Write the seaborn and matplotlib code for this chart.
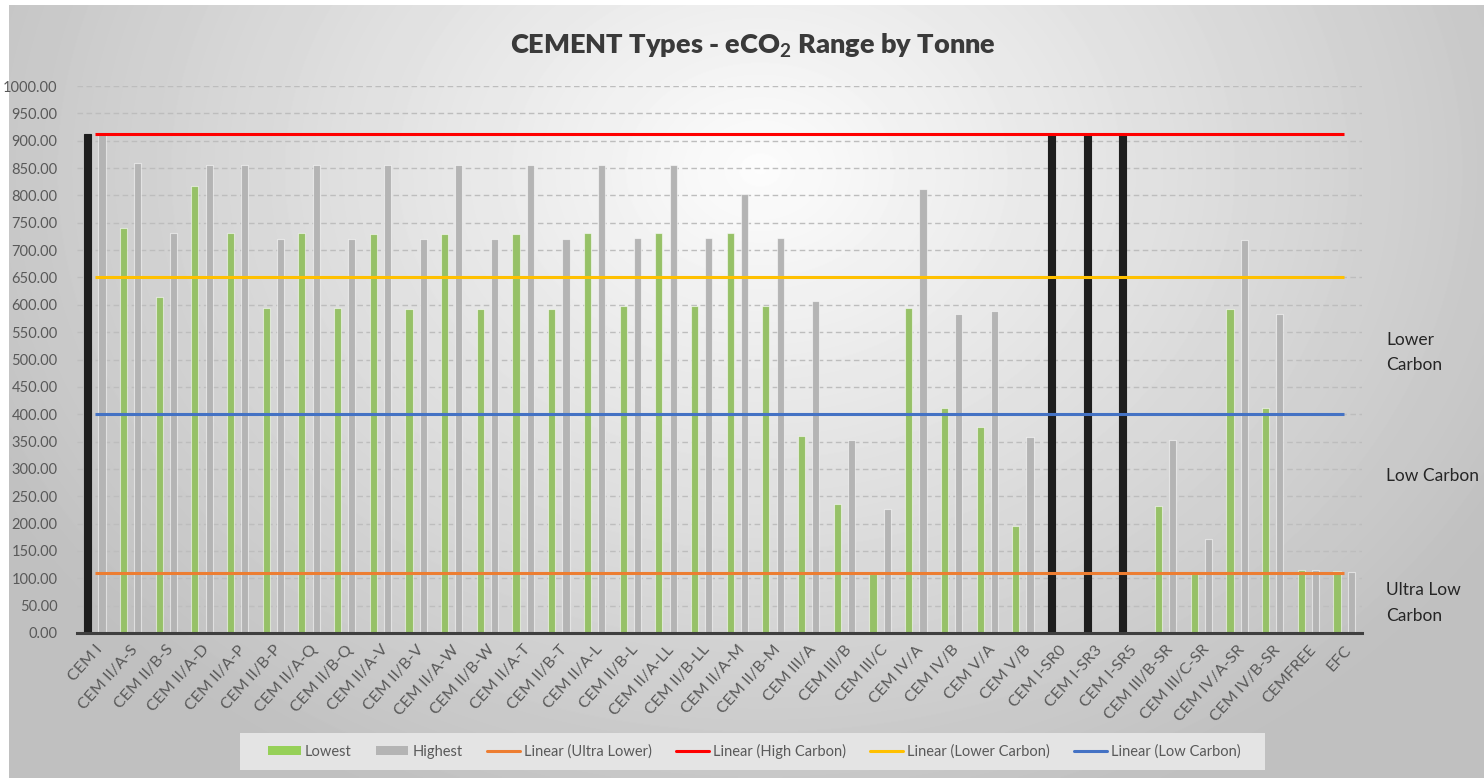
import numpy as np
import pandas as pd
import matplotlib
matplotlib.use("Agg")
import matplotlib.pyplot as plt
import seaborn as sns
from matplotlib.patches import Patch, Rectangle
from matplotlib.lines import Line2D
from matplotlib.ticker import MultipleLocator, StrMethodFormatter
import matplotlib.transforms as mtransforms

# ---------------- data ----------------
categories = [
    "CEM I", "CEM II/A-S", "CEM II/B-S", "CEM II/A-D", "CEM II/A-P", "CEM II/B-P",
    "CEM II/A-Q", "CEM II/B-Q", "CEM II/A-V", "CEM II/B-V", "CEM II/A-W", "CEM II/B-W",
    "CEM II/A-T", "CEM II/B-T", "CEM II/A-L", "CEM II/B-L", "CEM II/A-LL", "CEM II/B-LL",
    "CEM II/A-M", "CEM II/B-M", "CEM III/A", "CEM III/B", "CEM III/C", "CEM IV/A",
    "CEM IV/B", "CEM V/A", "CEM V/B", "CEM I-SR0", "CEM I-SR3", "CEM I-SR5",
    "CEM III/B-SR", "CEM III/C-SR", "CEM IV/A-SR", "CEM IV/B-SR", "CEMFREE", "EFC",
]
lowest = [912, 741, 615, 818, 731, 594, 731, 594, 729, 593, 729, 593,
          729, 593, 731, 598, 731, 598, 731, 597, 360, 235, 107, 594,
          412, 376, 196, 912, 912, 912, 233, 108, 593, 412, 116, 114]
highest = [912, 860, 732, 856, 856, 720, 856, 720, 856, 720, 856, 720,
           856, 720, 856, 722, 856, 722, 803, 722, 607, 353, 226, 811,
           584, 589, 358, np.nan, np.nan, np.nan, 352, 171, 719, 584, 116, 112]
highlight_black = ["CEM I", "CEM I-SR0", "CEM I-SR3", "CEM I-SR5"]

series_names = ["Lowest", "Highest"]
line_labels = ["Linear (Ultra Lower)", "Linear (High Carbon)",
               "Linear (Lower Carbon)", "Linear (Low Carbon)"]
line_values = [110, 912, 650, 400]
zone_labels = ["Lower\nCarbon", "Low Carbon", "Ultra Low\nCarbon"]
zone_values = [513, 287, 55]

# ---------------- style ----------------
GREEN = "#96D058"
GRAY = "#B4B4B4"
BLACK = "#1E1E1E"
line_colors = ["#ED7D31", "#FF0000", "#FFC000", "#4472C4"]
TXT = "#595959"

sns.set_theme(style="white")
plt.rcParams["font.family"] = ["Lato", "DejaVu Sans"]
plt.rcParams["mathtext.fontset"] = "custom"
plt.rcParams["mathtext.rm"] = "Lato"
plt.rcParams["mathtext.bf"] = "Lato:bold"

W, H = 1484, 778
fig = plt.figure(figsize=(W / 100, H / 100), dpi=100)
fig.patch.set_facecolor("white")

# background gradient panel
bg = fig.add_axes([9 / W, 0, 1 - 9 / W, 1 - 5 / H])
bg.axis("off")
gh, gw = 773, 1475
yy, xx = np.mgrid[0:gh, 0:gw]
d = np.sqrt(((xx + 9 - 760) / 800.0) ** 2 + ((yy + 5 - 170) / 640.0) ** 2)
val = np.clip(0.99 - 0.22 * d, 0.75, 1.0)
bg.imshow(val, cmap="gray", vmin=0, vmax=1, aspect="auto", interpolation="bilinear")
bg.set_zorder(0)

ax = fig.add_axes([77 / W, 1 - 633 / H, (1362 - 77) / W, (633 - 86) / H])
ax.set_zorder(1)
ax.patch.set_alpha(0)

df = pd.DataFrame({
    "cement": categories * 2,
    "series": [series_names[0]] * len(categories) + [series_names[1]] * len(categories),
    "value": list(lowest) + list(highest),
}).dropna()

sns.barplot(data=df, x="cement", y="value", hue="series", order=categories,
            hue_order=series_names, palette={"Lowest": GREEN, "Highest": GRAY},
            width=0.8, gap=0.5, errorbar=None, ax=ax, legend=False,
            edgecolor=(1, 1, 1, 0.55), linewidth=0.8, zorder=2)

# recolour the CEM I / sulfate-resisting CEM I bars black
for i, name in enumerate(categories):
    if name in highlight_black:
        ax.containers[0].patches[i].set_facecolor(BLACK)
        ax.containers[0].patches[i].set_edgecolor(BLACK)

# linear threshold lines
xs = np.arange(len(categories))
for lab, v, c in zip(line_labels, line_values, line_colors):
    ax.plot([xs[0], xs[-1]], [v, v], color=c, lw=2.2, zorder=3, solid_capstyle="butt")

ax.set_xlim(-0.5, len(categories) - 0.5)
ax.set_ylim(0, 1000)
ax.yaxis.set_major_locator(MultipleLocator(50))
ax.yaxis.set_major_formatter(StrMethodFormatter("{x:.2f}"))
ax.yaxis.grid(True, linestyle=(0, (4, 2.5)), color="#BDBDBD", lw=1.0)
ax.xaxis.grid(False)
ax.set_axisbelow(True)
for s in ["top", "right", "left"]:
    ax.spines[s].set_visible(False)
ax.spines["bottom"].set_color("#3F3F3F")
ax.spines["bottom"].set_linewidth(2.2)
ax.tick_params(axis="both", length=0, colors=TXT, labelsize=10.5)
ax.tick_params(axis="y", pad=14)
ax.set_xlabel("")
ax.set_ylabel("")
ax.set_xticks(xs)
ax.set_xticklabels(categories, rotation=48, ha="right", rotation_mode="anchor",
                   color=TXT, fontsize=11.5)
ax.tick_params(axis="x", pad=7)

# title
fig.text(753 / W, 1 - 46 / H, r"CEMENT Types - eCO$\mathbf{_2}$ Range by Tonne",
         ha="center", va="center", fontsize=19.5, fontweight="heavy", color="#3A3A3A")

# zone labels on the right
trans = mtransforms.blended_transform_factory(fig.transFigure, ax.transData)
for lab, v in zip(zone_labels, zone_values):
    fig.text(1386 / W, v, lab, transform=trans, ha="left", va="center",
             fontsize=12.5, color="#262626", linespacing=1.75)

# legend background box
fig.patches.append(Rectangle((240 / W, 1 - 770 / H), (1265 - 240) / W, 37 / H,
                             transform=fig.transFigure, facecolor="#E4E4E4",
                             edgecolor="none", zorder=0.5))

handles = [Patch(facecolor=GREEN, edgecolor="none"), Patch(facecolor=GRAY, edgecolor="none")]
handles += [Line2D([], [], color=c, lw=2.2) for c in line_colors]
labels = series_names + line_labels
leg = fig.legend(handles, labels, loc="center", bbox_to_anchor=(754 / W, 1 - 751 / H),
                 ncol=6, frameon=False, fontsize=10.5,
                 handlelength=2.25, handleheight=0.55, handletextpad=0.28,
                 columnspacing=1.66)
for t in leg.get_texts():
    t.set_color(TXT)

fig.savefig("out.png", dpi=100, facecolor=fig.get_facecolor())
